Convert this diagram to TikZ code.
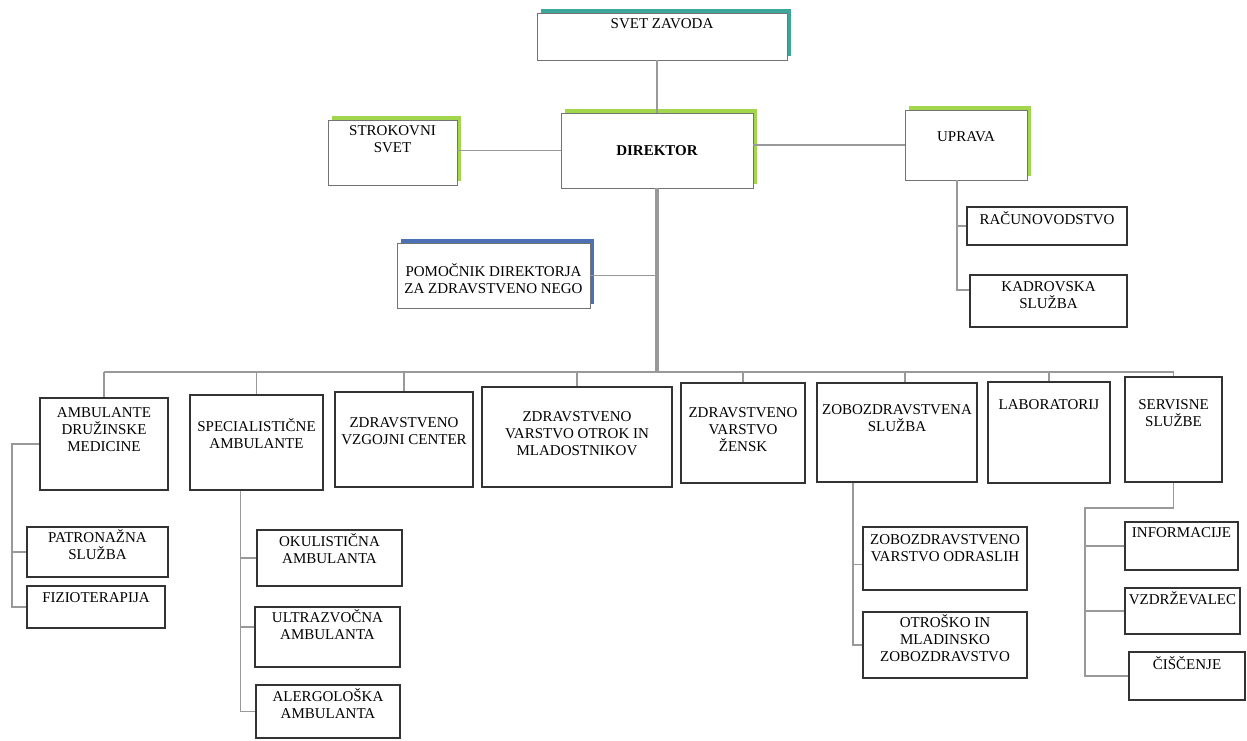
\documentclass[tikz,border=0pt]{standalone}
\usepackage{fontspec}
\setmainfont{Liberation Serif}
\usetikzlibrary{shadows}
\newcommand{\orgfont}{\fontsize{15}{17}\selectfont}
\tikzset{every picture/.append style={x=1pt, y=-1pt}}
\tikzset{
    box/.style={rectangle, draw=black!80, line width=1.3pt, fill=white, inner sep=0pt},
    topbox/.style={rectangle, draw=black!55, line width=0.8pt, fill=white, inner sep=0pt,
        general shadow={fill=#1, shadow xshift=4pt, shadow yshift=4pt}},
    txt/.style={anchor=north, align=center, inner sep=0pt, font=\orgfont},
    conn/.style={draw=black!40, line width=1.8pt},
    trunk/.style={draw=black!40, line width=4pt},
    bus/.style={draw=black!40, line width=2.6pt}
}
\definecolor{shteal}{HTML}{3AA79A}
\definecolor{shgreen}{HTML}{A2D64C}
\definecolor{shblue}{HTML}{4C70B4}

\begin{document}
\begin{tikzpicture}
  \useasboundingbox (0,0) rectangle (1247,740);
  % top of the chart
  \node (svet) [topbox=shteal, minimum width=250, minimum height=47, label={[txt, yshift=-6pt]north:SVET ZAVODA}] at (662, 36.5) {};
  \node (direktor) [topbox=shgreen, minimum width=192, minimum height=75, font=\orgfont\bfseries] at (657, 150.5) {DIREKTOR};
  \node (strokovni) [topbox=shgreen, minimum width=129, minimum height=65, label={[txt, yshift=-6pt]north:{STROKOVNI\\SVET}}] at (392.5, 152.5) {};
  \node (uprava) [topbox=shgreen, minimum width=122, minimum height=70, label={[txt, yshift=-22pt]north:UPRAVA}] at (966, 145) {};
  \node (pomocnik) [topbox=shblue, minimum width=193, minimum height=65, label={[txt, yshift=-21pt]north:{POMOČNIK DIREKTORJA\\ZA ZDRAVSTVENO NEGO}}] at (493.5, 275.5) {};
  \node (racu) [box, minimum width=160, minimum height=38, label={[txt, yshift=-5pt]north:RAČUNOVODSTVO}] at (1047, 226) {};
  \node (kadr) [box, minimum width=157, minimum height=52, label={[txt, yshift=-7pt]north:{KADROVSKA\\SLUŽBA}}] at (1048.5, 301) {};

  % units
  \node (amb) [box, minimum width=128, minimum height=92, label={[txt, yshift=-10pt]north:{AMBULANTE\\DRUŽINSKE\\MEDICINE}}] at (104, 444) {};
  \node (spec) [box, minimum width=133, minimum height=95, label={[txt, yshift=-24pt]north:{SPECIALISTIČNE\\AMBULANTE}}] at (256.5, 442.5) {};
  \node (zvc) [box, minimum width=138, minimum height=95, label={[txt, yshift=-26pt]north:{ZDRAVSTVENO\\VZGOJNI CENTER}}] at (404, 439.5) {};
  \node (otrok) [box, minimum width=190, minimum height=100, label={[txt, yshift=-25pt]north:{ZDRAVSTVENO\\VARSTVO OTROK IN\\MLADOSTNIKOV}}] at (577, 437) {};
  \node (zensk) [box, minimum width=124, minimum height=100, label={[txt, yshift=-25pt]north:{ZDRAVSTVENO\\VARSTVO\\ŽENSK}}] at (743, 433) {};
  \node (zobo) [box, minimum width=160, minimum height=99, label={[txt, yshift=-22pt]north:{ZOBOZDRAVSTVENA\\SLUŽBA}}] at (897, 432.5) {};
  \node (lab) [box, minimum width=122, minimum height=101, label={[txt, yshift=-18pt]north:LABORATORIJ}] at (1049, 432.5) {};
  \node (serv) [box, minimum width=97, minimum height=105, label={[txt, yshift=-23pt]north:{SERVISNE\\SLUŽBE}}] at (1173.5, 429.5) {};

  % sub units
  \node (patr) [box, minimum width=141, minimum height=50, label={[txt, yshift=-3pt]north:{PATRONAŽNA\\SLUŽBA}}] at (97.5, 552) {};
  \node (fizio) [box, minimum width=138, minimum height=42, label={[txt, yshift=-7pt]north:FIZIOTERAPIJA}] at (96, 607) {};
  \node (okul) [box, minimum width=145, minimum height=56, label={[txt, yshift=-4pt]north:{OKULISTIČNA\\AMBULANTA}}] at (329.5, 558) {};
  \node (ultra) [box, minimum width=145, minimum height=60, label={[txt, yshift=-3pt]north:{ULTRAZVOČNA\\AMBULANTA}}] at (327.5, 637) {};
  \node (alerg) [box, minimum width=144, minimum height=53, label={[txt, yshift=-4pt]north:{ALERGOLOŠKA\\AMBULANTA}}] at (328, 711.5) {};
  \node (zodr) [box, minimum width=164, minimum height=63, label={[txt, yshift=-8pt]north:{ZOBOZDRAVSTVENO\\VARSTVO ODRASLIH}}] at (945, 558.5) {};
  \node (otro) [box, minimum width=164, minimum height=66, label={[txt, yshift=-3pt]north:{OTROŠKO IN\\MLADINSKO\\ZOBOZDRAVSTVO}}] at (945, 645) {};
  \node (info) [box, minimum width=113, minimum height=48, label={[txt, yshift=-6pt]north:INFORMACIJE}] at (1181.5, 546) {};
  \node (vzdr) [box, minimum width=115, minimum height=46, label={[txt, yshift=-4pt]north:VZDRŽEVALEC}] at (1182.5, 611) {};
  \node (cisc) [box, minimum width=116, minimum height=48, label={[txt, yshift=-5pt]north:ČIŠČENJE}] at (1187, 676) {};

  \coordinate (bus) at (655, 372);
  \coordinate (sv) at (1085, 508);

  % connectors
  \draw[conn] (direktor.north) -- (direktor.north |- svet.south);
  \draw[conn] (direktor.west) -- (direktor.west -| strokovni.east);
  \draw[conn] (uprava.west) -- (uprava.west -| direktor.east);
  \draw[conn] ([xshift=-9pt]uprava.south) |- (racu.west);
  \draw[conn] ([xshift=-9pt]uprava.south) |- ([yshift=11pt]kadr.west);
  \draw[conn] (pomocnik.east) -- (pomocnik.east -| direktor.south);
  \draw[trunk] (direktor.south) -- (direktor.south |- bus);
  \draw[bus] (amb.north |- bus) -- (serv.north |- bus);
  \draw[conn] (amb.north |- bus) -- (amb.north);
  \draw[conn] (spec.north |- bus) -- (spec.north);
  \draw[conn] (zvc.north |- bus) -- (zvc.north);
  \draw[conn] (otrok.north |- bus) -- (otrok.north);
  \draw[conn] (zensk.north |- bus) -- (zensk.north);
  \draw[conn] ([xshift=8pt]zobo.north |- bus) -- ([xshift=8pt]zobo.north);
  \draw[conn] (lab.north |- bus) -- (lab.north);
  \draw[conn] (serv.north |- bus) -- (serv.north);

  \draw[conn] (amb.west) -- ++(-27,0) |- (fizio.west);
  \draw[conn] ([xshift=-27pt]amb.west) |- (patr.west);
  \draw[conn] ([xshift=-16pt]spec.south) |- (alerg.west);
  \draw[conn] ([xshift=-16pt]spec.south) |- (okul.west);
  \draw[conn] ([xshift=-16pt]spec.south) |- ([yshift=10pt]ultra.west);
  \draw[conn] ([xshift=-44pt]zobo.south) |- (otro.west);
  \draw[conn] ([xshift=-44pt]zobo.south) |- ([yshift=-6pt]zodr.west);
  \draw[conn] (serv.south) |- (sv) |- (cisc.west);
  \draw[conn] (sv) |- (info.west);
  \draw[conn] (sv) |- (vzdr.west);
\end{tikzpicture}
\end{document}
